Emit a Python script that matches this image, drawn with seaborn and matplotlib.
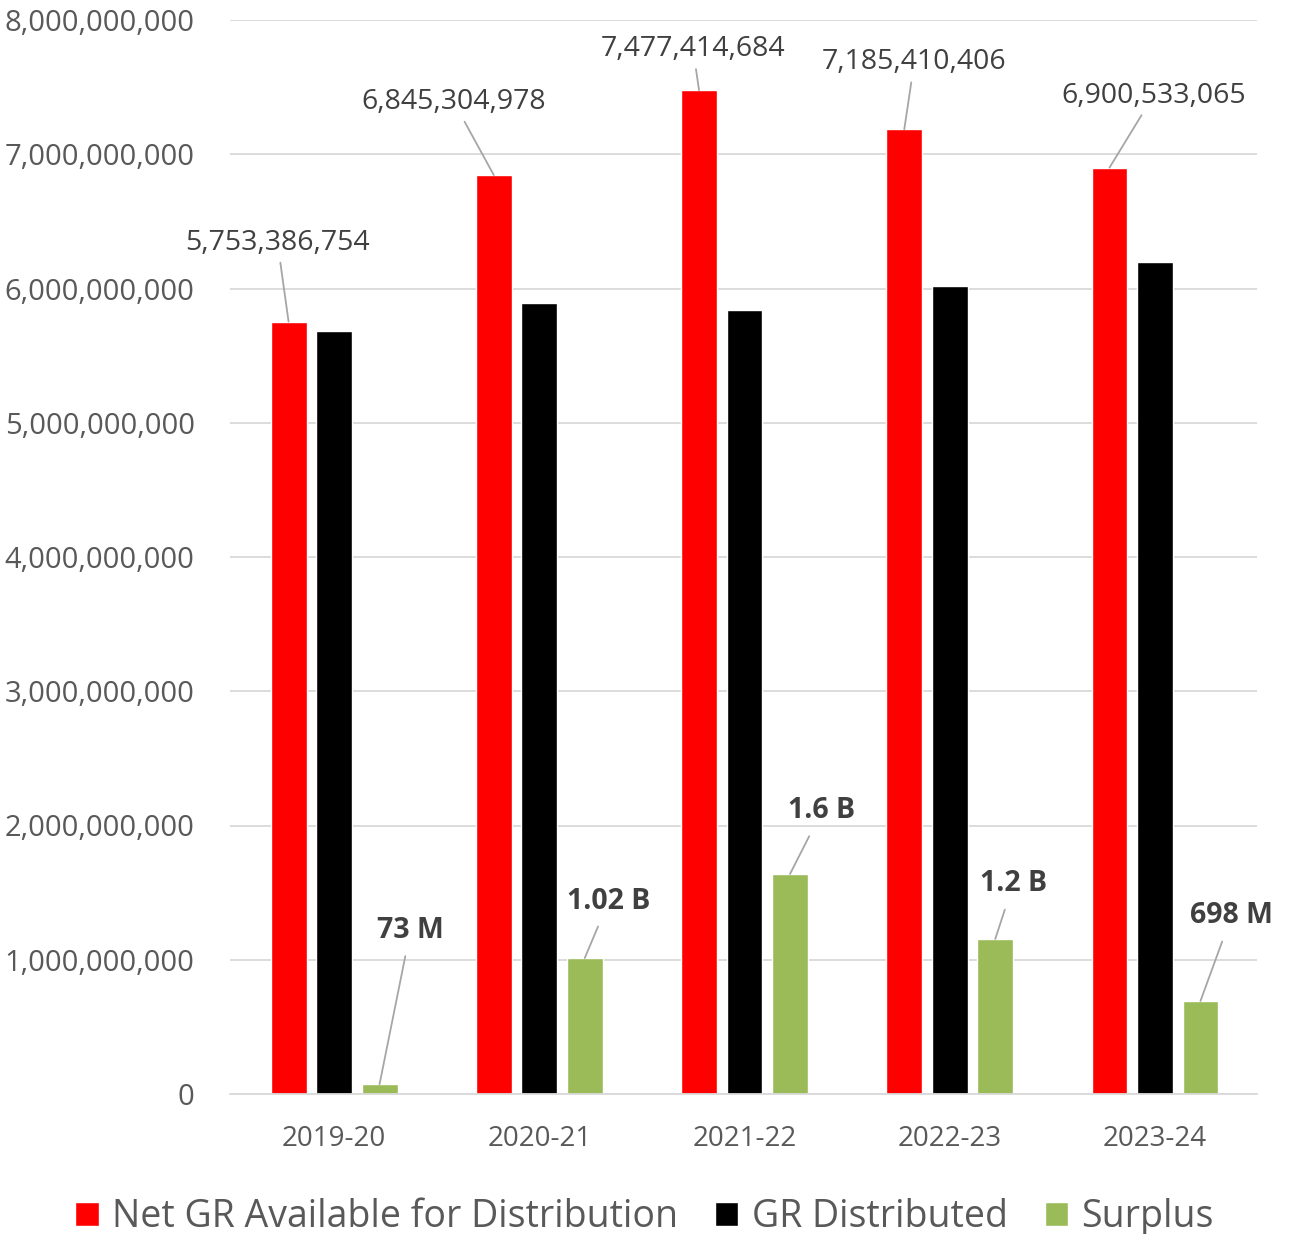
import matplotlib
matplotlib.use("Agg")
import matplotlib.pyplot as plt
import seaborn as sns
import pandas as pd
from matplotlib.ticker import FuncFormatter, MultipleLocator

years = ["2019-20", "2020-21", "2021-22", "2022-23", "2023-24"]
series = ["Net GR Available for Distribution", "GR Distributed", "Surplus"]
net_available = [5753386754, 6845304978, 7477414684, 7185410406, 6900533065]
distributed = [5680000000, 5892000000, 5840000000, 6019000000, 6197000000]
surplus = [73000000, 1013000000, 1639000000, 1155000000, 693000000]
net_labels = ["5,753,386,754", "6,845,304,978", "7,477,414,684", "7,185,410,406", "6,900,533,065"]
surplus_labels = ["73 M", "1.02 B", "1.6 B", "1.2 B", "698 M"]
colors = ["#ff0000", "#000000", "#9bbb59"]

# label offsets (pixels) from bar top centre
net_offsets = [(-11, 79), (-40, 73), (-6, 41), (10, 67), (44, 72)]
sur_offsets = [(31, 154), (24, 57), (32, 63), (18, 55), (31, 85)]

sns.set_style("white")
plt.rcParams["font.family"] = ["Open Sans", "DejaVu Sans"]

df = pd.DataFrame({
    "year": years * 3,
    "series": [series[0]] * 5 + [series[1]] * 5 + [series[2]] * 5,
    "value": net_available + distributed + surplus,
})

W, H = 1289, 1234
fig = plt.figure(figsize=(W / 100, H / 100), dpi=100)
ax = fig.add_axes([230 / W, 1 - 1094 / H, (1257 - 230) / W, (1094 - 20) / H])

sns.barplot(data=df, x="year", y="value", hue="series", hue_order=series,
            palette=colors, width=0.665, gap=0.21, saturation=1,
            order=years, ax=ax, legend=True, errorbar=None)

ax.set_xlim(-0.507, 4.497)
ax.set_ylim(0, 8e9)
ax.yaxis.set_major_locator(MultipleLocator(1e9))
ax.yaxis.set_major_formatter(FuncFormatter(lambda v, p: f"{int(round(v)):,}"))
ax.grid(axis="y", color="#d9d9d9", linewidth=1.3)
ax.set_axisbelow(True)
for s in ["left", "right", "top"]:
    ax.spines[s].set_visible(False)
ax.spines["bottom"].set_color("#d9d9d9")
ax.spines["bottom"].set_linewidth(1.3)
ax.tick_params(axis="both", length=0, colors="#595959")
ax.tick_params(axis="y", pad=25.5, labelsize=21)
ax.tick_params(axis="x", pad=22, labelsize=20)
ax.set_xlabel("")
ax.set_ylabel("")

cont_net, cont_dist, cont_sur = ax.containers[0], ax.containers[1], ax.containers[2]
for bar, lab, (dx, dy) in zip(cont_net, net_labels, net_offsets):
    x = bar.get_x() + bar.get_width() / 2
    y = bar.get_height()
    ax.annotate(lab, xy=(x, y), xytext=(dx, dy), textcoords="offset pixels",
                ha="center", va="center", fontsize=20.5, color="#404040",
                arrowprops=dict(arrowstyle="-", color="#a6a6a6", lw=1.3,
                                shrinkA=2, shrinkB=0))
for bar, lab, (dx, dy) in zip(cont_sur, surplus_labels, sur_offsets):
    x = bar.get_x() + bar.get_width() / 2
    y = bar.get_height()
    ax.annotate(lab, xy=(x, y), xytext=(dx, dy), textcoords="offset pixels",
                ha="center", va="center", fontsize=20.5, fontweight="bold",
                color="#404040",
                arrowprops=dict(arrowstyle="-", color="#a6a6a6", lw=1.3,
                                shrinkA=6, shrinkB=0))

handles, labels = ax.get_legend_handles_labels()
ax.get_legend().remove()
fig.legend(handles, labels, loc="center", bbox_to_anchor=(0.5, 1 - 1217 / H),
           ncol=3, frameon=False, fontsize=27, labelcolor="#595959",
           handlelength=0.62, handleheight=0.62, handletextpad=0.35,
           columnspacing=1.0)

fig.savefig("out.png", dpi=100)
